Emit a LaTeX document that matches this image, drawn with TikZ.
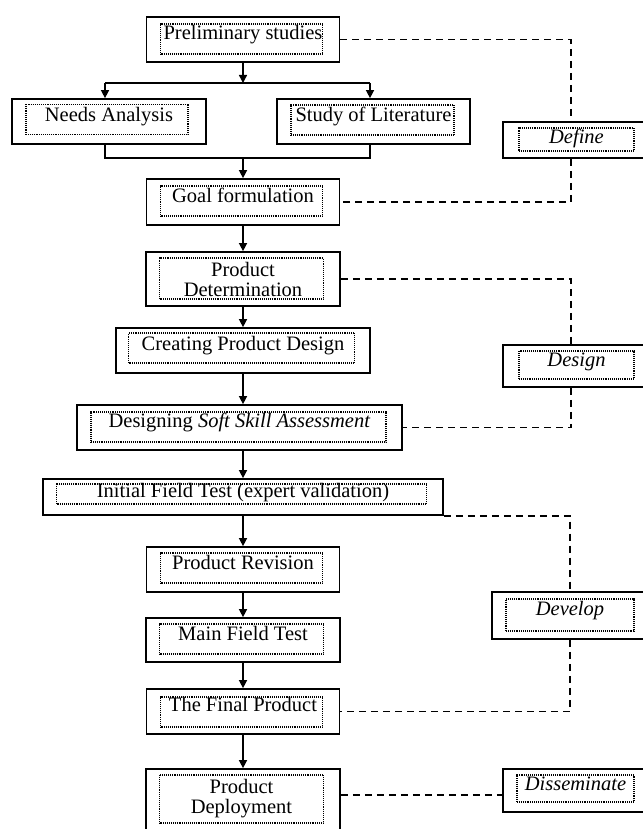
\documentclass[tikz,border=0pt]{standalone}
\usepackage{fontspec}
\setmainfont{Liberation Serif}
\usetikzlibrary{arrows.meta}

\begin{document}
\begin{tikzpicture}[x=1pt,y=-1pt,
    every node/.style={font=\fontsize{20.5pt}{20pt}\selectfont},
    stage/.style={draw,line width=1.7pt,inner sep=0pt},
    oneline/.style={text height=14pt,text depth=14pt},
    dotbox/.style={draw,line width=1.2pt,dash pattern=on 1pt off 0.9pt,inner sep=0pt},
    phase/.style={stage,oneline,font=\fontsize{20.5pt}{20pt}\selectfont\itshape},
    flow/.style={-{Triangle[length=8pt,width=8pt]},line width=1.4pt},
    wire/.style={line width=1.4pt},
    link/.style={dash pattern=on 7pt off 5pt,line width=1.3pt}]
    \useasboundingbox (0,0) rectangle (642,829);

    % main column
    \node[stage,oneline,minimum width=193pt,minimum height=45pt] (Prelim) at (243,39.5) {Preliminary studies};
    \node[dotbox,minimum width=162pt,minimum height=30pt] (PrelimIn) at (241.5,39) {};
    \node[stage,oneline,minimum width=194pt,minimum height=45pt] (Needs) at (109,121.5) {Needs Analysis};
    \node[dotbox,minimum width=162pt,minimum height=30pt] (NeedsIn) at (107,119.5) {};
    \node[stage,oneline,minimum width=193pt,minimum height=45pt] (Study) at (373.5,121.5) {Study of Literature};
    \node[dotbox,minimum width=163pt,minimum height=30pt] (StudyIn) at (372.5,120) {};
    \node[stage,oneline,minimum width=193pt,minimum height=46pt] (Goal) at (243,202) {Goal formulation};
    \node[dotbox,minimum width=162pt,minimum height=30pt] (GoalIn) at (241.5,201) {};
    \node[stage,align=center,minimum width=194pt,minimum height=54pt] (PDet) at (243,279) {Product\\Determination};
    \node[dotbox,minimum width=164pt,minimum height=41pt] (PDetIn) at (241.5,278.5) {};
    \node[stage,oneline,minimum width=254pt,minimum height=45pt] (CPD) at (243,350.5) {Creating Product Design};
    \node[dotbox,minimum width=226pt,minimum height=30pt] (CPDIn) at (241.5,348) {};
    \node[stage,oneline,minimum width=325pt,minimum height=45pt] (DSSA) at (239.5,427.5) {Designing \textit{Soft Skill Assessment}};
    \node[dotbox,minimum width=295pt,minimum height=30pt] (DSSAIn) at (238.5,427) {};
    \node[stage,oneline,minimum width=400pt,minimum height=36pt] (IFT) at (243,497) {Initial Field Test (expert validation)};
    \node[dotbox,minimum width=370pt,minimum height=20pt] (IFTIn) at (241.5,494) {};
    \node[stage,oneline,minimum width=193pt,minimum height=45pt] (PRev) at (243,569.5) {Product Revision};
    \node[dotbox,minimum width=162pt,minimum height=30pt] (PRevIn) at (241.5,568) {};
    \node[stage,oneline,minimum width=194pt,minimum height=44pt] (MFT) at (243,640) {Main Field Test};
    \node[dotbox,minimum width=164pt,minimum height=30pt] (MFTIn) at (241.5,639) {};
    \node[stage,oneline,minimum width=193pt,minimum height=45pt] (TFP) at (243,711.5) {The Final Product};
    \node[dotbox,minimum width=162pt,minimum height=30pt] (TFPIn) at (241.5,712) {};
    \node[stage,minimum width=194pt,minimum height=66pt] (PDep) at (243,802) {};
    \node[dotbox,align=center,minimum width=164pt,minimum height=48pt] (PDepIn) at (241.5,799) {Product\\Deployment};

    % phases
    \node[phase,text depth=6pt,minimum width=147pt,minimum height=36pt] (Define) at (576.5,140) {Define};
    \node[dotbox,minimum width=115pt,minimum height=23pt] (DefineIn) at (576.5,139.5) {};
    \node[phase,minimum width=147pt,minimum height=42pt] (Design) at (576.5,366) {Design};
    \node[dotbox,minimum width=115pt,minimum height=28pt] (DesignIn) at (576.5,365) {};
    \node[phase,minimum width=156pt,minimum height=47pt] (Develop) at (570,615.5) {Develop};
    \node[dotbox,minimum width=128pt,minimum height=32pt] (DevelopIn) at (570,615) {};
    \node[phase,minimum width=145pt,minimum height=43pt] (Dissem) at (575.5,790.5) {Disseminate};
    \node[dotbox,minimum width=117pt,minimum height=27pt] (DissemIn) at (575.5,788.5) {};

    % arrows
    \coordinate (Split) at (243,83);
    \coordinate (SplitL) at (105,83);
    \coordinate (SplitR) at (370,83);
    \coordinate (Join) at (243,158);
    \draw[flow] (Prelim.south) -- (Split);
    \draw[wire] (SplitL) -- (SplitR);
    \draw[flow] (SplitL) -- (SplitL |- Needs.north);
    \draw[flow] (SplitR) -- (SplitR |- Study.north);
    \draw[wire] (SplitL |- Needs.south) |- (Join) -| (SplitR |- Study.south);
    \draw[flow] (Join) -- (Goal.north);
    \draw[flow] (Goal.south) -- (PDet.north);
    \draw[flow] (PDet.south) -- (CPD.north);
    \draw[flow] (CPD.south) -- (CPD.south |- DSSA.north);
    \draw[flow] (IFT.north |- DSSA.south) -- (IFT.north);
    \draw[flow] (IFT.south) -- (PRev.north);
    \draw[flow] (PRev.south) -- (MFT.north);
    \draw[flow] (MFT.south) -- (TFP.north);
    \draw[flow] (TFP.south) -- (PDep.north);

    % dashed links to the phases
    \coordinate (Rail) at (571,0);
    \draw[link] (Prelim.east) -| (Rail |- Define.north);
    \draw[link] (Rail |- Define.south) |- (Goal.east);
    \draw[link] (PDet.east) -| (Rail |- Design.north);
    \draw[link] (Rail |- Design.south) |- (DSSA.east);
    \draw[link] (IFT.south east) -| (Develop.north);
    \draw[link] (Develop.south) |- (TFP.east);
    \draw[link] ([yshift=7pt]PDep.east) -- ([yshift=7pt]PDep.east -| Dissem.west);
\end{tikzpicture}
\end{document}
